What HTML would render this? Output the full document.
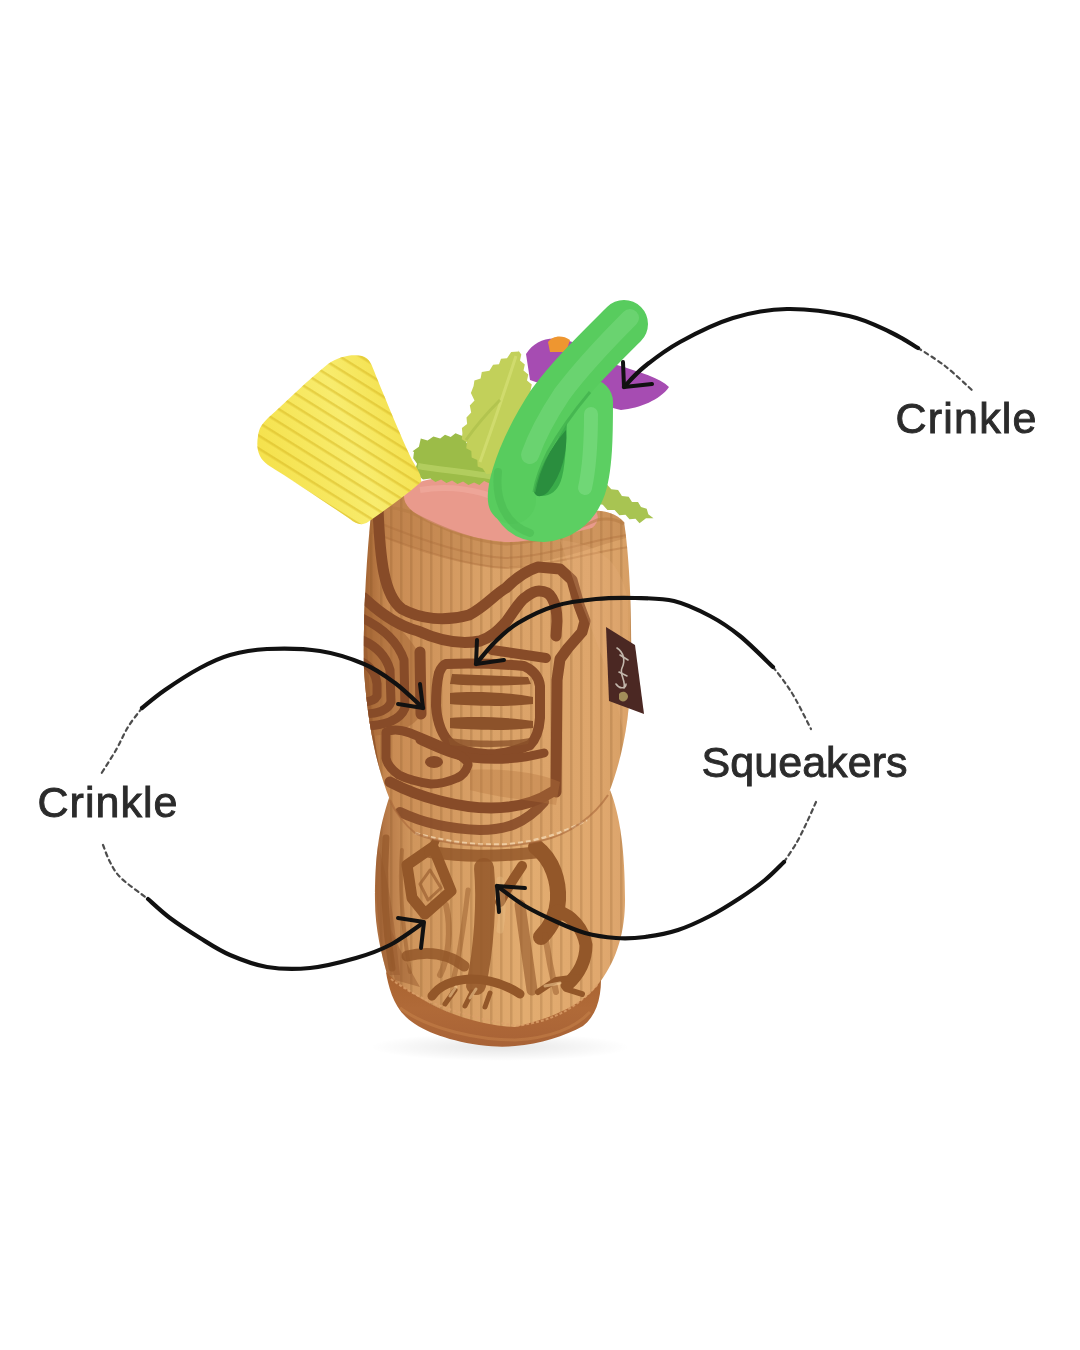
<!DOCTYPE html>
<html><head><meta charset="utf-8">
<style>
html,body{margin:0;padding:0;background:#fff;}
body{width:1080px;height:1350px;overflow:hidden;}
svg{display:block;}
text{font-family:"Liberation Sans",sans-serif;font-weight:normal;fill:#2b2b2b;stroke:#2b2b2b;stroke-width:0.9px;}
</style></head>
<body>
<svg width="1080" height="1350" viewBox="0 0 1080 1350">
<defs>
  <linearGradient id="bodyG" x1="360" x2="635" y1="0" y2="0" gradientUnits="userSpaceOnUse">
    <stop offset="0" stop-color="#9c5c2c"/>
    <stop offset="0.1" stop-color="#c88a52"/>
    <stop offset="0.45" stop-color="#daa268"/>
    <stop offset="0.85" stop-color="#dea66c"/>
    <stop offset="1" stop-color="#d69e64"/>
  </linearGradient>
  <linearGradient id="lowG" x1="372" x2="626" y1="0" y2="0" gradientUnits="userSpaceOnUse">
    <stop offset="0" stop-color="#a8683a"/>
    <stop offset="0.15" stop-color="#cf955c"/>
    <stop offset="0.6" stop-color="#e2ac70"/>
    <stop offset="0.9" stop-color="#e0a86e"/>
    <stop offset="1" stop-color="#dba46c"/>
  </linearGradient>
  <linearGradient id="baseG" x1="0" x2="0" y1="970" y2="1047" gradientUnits="userSpaceOnUse">
    <stop offset="0" stop-color="#a8622f"/>
    <stop offset="0.5" stop-color="#b06a38"/>
    <stop offset="1" stop-color="#a86236"/>
  </linearGradient>
  <linearGradient id="yelG" x1="260" y1="440" x2="420" y2="380" gradientUnits="userSpaceOnUse">
    <stop offset="0" stop-color="#f5e24e"/>
    <stop offset="0.5" stop-color="#f8ec6e"/>
    <stop offset="1" stop-color="#f2dc40"/>
  </linearGradient>
  <pattern id="cord" width="10" height="20" patternUnits="userSpaceOnUse">
    <rect x="0" y="0" width="2.5" height="20" fill="#7a4a20" opacity="0.2"/>
  </pattern>
  <pattern id="ridge" width="11" height="11" patternUnits="userSpaceOnUse" patternTransform="rotate(32)">
    <rect x="0" y="0" width="11" height="2.5" fill="#d6b520" opacity="0.5"/>
  </pattern>
  <clipPath id="upClip"><path d="M372,505 C385,496 405,494 420,497 L585,511 C600,509 615,512 624,522 C630,560 632,620 631,670 C630,720 622,760 608,795 C595,815 570,835 540,841 C520,845 500,847 490,846 C450,845 425,838 415,833 C405,825 395,812 390,800 C378,770 368,730 364,670 C363,620 366,560 372,505 Z"/></clipPath>
  <clipPath id="lowClip"><path d="M390,795 C420,815 460,830 500,835 C550,830 590,815 610,790 C620,815 625,850 625,900 C625,930 618,958 600,982 C590,1000 560,1022 515,1028 C470,1026 420,1005 387,974 C382,955 375,930 375,900 C375,860 378,830 390,795 Z"/></clipPath>
  <radialGradient id="shadowG" cx="0.5" cy="0.5" r="0.5">
    <stop offset="0" stop-color="#000" stop-opacity="0.10"/>
    <stop offset="1" stop-color="#000" stop-opacity="0"/>
  </radialGradient>
</defs>
<rect width="1080" height="1350" fill="#fff"/>

<!-- shadow -->
<ellipse cx="500" cy="1047" rx="130" ry="14" fill="url(#shadowG)"/>

<!-- lower body -->
<path d="M390,795 C420,815 460,830 500,835 C550,830 590,815 610,790 C620,815 625,850 625,900 C625,930 618,958 600,982 C590,1000 560,1022 515,1028 C470,1026 420,1005 387,974 C382,955 375,930 375,900 C375,860 378,830 390,795 Z" fill="url(#lowG)"/>
<g clip-path="url(#lowClip)">
  <rect x="370" y="780" width="260" height="260" fill="url(#cord)"/>
  <!-- mottled shading patches -->
  <path d="M376,840 C390,880 395,930 400,975 L385,975 C378,930 374,880 376,840 Z" fill="#9a5c30" opacity="0.5"/>
  <path d="M391,930 C400,950 410,970 420,987 L395,980 C390,960 388,945 391,930 Z" fill="#9a5c30" opacity="0.5"/>
  <g fill="none" stroke="#935729" stroke-linecap="round" stroke-linejoin="round">
    <path d="M386,838 C383,880 385,925 392,968" stroke-width="7" opacity="0.7"/>
    <path d="M402,850 C399,885 403,930 410,972" stroke-width="4" opacity="0.45"/>
    <path d="M433,847 L407,865 L412,898 L425,914 L451,891 Z" stroke-width="11"/>
    <path d="M430,870 L420,884 L428,900 L441,888 Z" stroke-width="3" opacity="0.6"/>
    <path d="M433,847 L438,835" stroke-width="8"/>
    <path d="M430,852 C460,856 490,858 540,852" stroke-width="12" opacity="0.85"/>
    <path d="M484,868 C487,900 484,950 476,985" stroke-width="20" opacity="0.85"/>
    <path d="M468,890 C464,925 460,955 452,985" stroke-width="5" opacity="0.45"/>
    <path d="M522,866 C514,878 506,890 500,902" stroke-width="10"/>
    <path d="M536,847 C553,860 559,882 558,900 C557,915 550,928 541,937" stroke-width="16"/>
    <path d="M557,911 C572,916 583,928 586,945 C586,962 578,975 567,985" stroke-width="13"/>
    <path d="M520,905 C524,935 528,960 532,990" stroke-width="11" opacity="0.6"/>
    <path d="M545,935 C548,955 552,975 556,992" stroke-width="6" opacity="0.5"/>
    <path d="M407,956 C430,950 450,955 464,966" stroke-width="11" opacity="0.85"/>
    <path d="M432,996 C440,985 452,980 470,979 C490,979 505,984 520,994" stroke-width="9"/>
    <path d="M445,1004 L455,990 M465,1006 L472,992 M485,1007 L490,993" stroke-width="5"/>
    <path d="M538,992 L556,980 L578,977 L566,989 L582,994" stroke-width="6"/>
    <path d="M446,905 C452,930 448,960 440,975" stroke-width="6" opacity="0.45"/>
  </g>
  <g fill="none" stroke="#f0c892" stroke-linecap="round" opacity="0.6">
    <path d="M450,996 L456,987 M470,998 L476,989 M545,986 L560,983" stroke-width="3"/>
    <path d="M500,880 C503,900 503,915 500,930" stroke-width="7" opacity="0.5"/>
  </g>
</g>

<!-- upper body -->
<path d="M372,505 C385,496 405,494 420,497 L585,511 C600,509 615,512 624,522 C630,560 632,620 631,670 C630,720 622,760 608,795 C595,815 570,835 540,841 C520,845 500,847 490,846 C450,845 425,838 415,833 C405,825 395,812 390,800 C378,770 368,730 364,670 C363,620 366,560 372,505 Z" fill="url(#bodyG)"/>
<g clip-path="url(#upClip)">
  <rect x="360" y="490" width="280" height="360" fill="url(#cord)"/>
  <path d="M360,495 L640,495 L640,535 C610,540 570,560 505,568 C460,566 410,545 360,530 Z" fill="#a86c3a" opacity="0.28"/>
  <g fill="none" stroke="#a86c3a" stroke-width="2" opacity="0.35">
    <path d="M372,520 C420,540 470,556 505,558 C550,556 590,540 628,535"/>
    <path d="M372,532 C420,552 470,566 505,568 C550,566 590,552 630,547"/>
  </g>
  <!-- left edge dark band -->
  <path d="M362,520 C366,600 366,700 380,770 L372,770 C360,700 358,600 362,520 Z" fill="#8e5229" opacity="0.8"/>
  <!-- left eye rings -->
  <path d="M360,600 C385,612 405,630 418,652 L422,712 C415,728 395,736 360,736 Z" fill="#a86a38" opacity="0.55"/>
  <g fill="none" stroke="#874b28" stroke-width="9" stroke-linecap="round" stroke-linejoin="round">
    <path d="M362,618 C383,628 398,642 404,660 L405,708 C400,720 385,726 362,726"/>
    <path d="M362,640 C376,646 386,656 390,670 L391,702 C388,710 378,714 362,714"/>
    <path d="M362,662 C370,666 376,674 377,684 L377,696 C375,700 370,702 362,702"/>
  </g>
  <!-- face lines -->
  <g fill="none" stroke="#874b28" stroke-width="11" stroke-linecap="round" stroke-linejoin="round">
    <path d="M378,508 C380,560 384,596 402,609 C420,619 445,622 469,615 C485,607 495,594 506,588 C515,579 525,571 538,567 L560,569 L572,580 L579,605 L585,621 L582,632 L568,648 L560,659 L557,680 L556,792"/>
    <path d="M364,598 C380,613 398,626 418,631 C440,641 460,645 480,641 C494,636 500,628 506,622 C515,610 520,600 526,597 C531,593 535,591 539,591 C546,591 550,594 552,598 C556,605 557,612 557,621 L556,636"/>
    <path d="M492,650 L546,658" stroke-width="10"/>
    <path d="M446,664 C470,663 500,664 524,666 C533,670 539,677 540,686 L540,718 C539,732 535,740 530,745 C510,753 495,755 485,754 C470,753 460,751 452,745 C442,736 437,721 436,706 C436,691 437,681 439,673 C441,668 443,665 446,664 Z" stroke-width="10"/>
    <path d="M420,740 C440,749 455,756 472,758 C500,761 525,758 544,753" stroke-width="9"/>
    <path d="M420,652 L421,714" stroke-width="11"/>
    <path d="M386,732 C392,729 399,729 410,733 C425,739 445,747 457,754 C465,758 468,762 468,765 C466,772 462,776 457,778 C448,782 438,784 431,784 C418,782 405,778 399,775 C392,770 387,764 386,758 Z" stroke-width="9"/>
    <path d="M390,782 C420,798 460,808 491,808 C515,808 535,803 552,792" stroke-width="11"/>
    <path d="M400,812 C425,824 450,829 480,830 C505,830 525,824 544,802" stroke-width="10" opacity="0.9"/>
  </g>
  <ellipse cx="434" cy="762" rx="9" ry="6" fill="#874b28"/>
  <!-- eye inner -->
  <g fill="#8c522a">
    <path d="M452,674 L528,677 L531,684 C510,686 470,686 450,684 Z"/>
    <path d="M450,693 C470,691 510,692 533,697 L533,704 C510,707 470,706 450,704 Z"/>
    <path d="M450,718 C470,716 510,717 533,721 L533,728 C510,731 470,730 450,728 Z"/>
    <path d="M448,738 C470,741 510,742 530,738 L528,744 C510,748 470,748 450,745 Z" opacity="0.8"/>
  </g>
  <!-- cheek shading -->
  <path d="M470,770 C500,768 540,772 560,782 L556,805 C530,800 500,798 470,790 Z" fill="#b57540" opacity="0.35"/>
  <path d="M560,540 C600,545 620,560 628,600 L628,760 C620,700 600,650 580,600 Z" fill="#e6b07a" opacity="0.25"/>
</g>
<!-- waist seam -->
<path d="M415,833 C450,843 480,846 510,844 C540,841 565,832 587,820" fill="none" stroke="#f2d4ac" stroke-width="2.5" stroke-dasharray="5 3" opacity="0.85"/>
<path d="M608,795 C595,815 570,835 540,841 C520,845 500,847 490,846 C450,845 425,838 415,833 C405,825 395,812 390,800" fill="none" stroke="#a8683a" stroke-width="2" opacity="0.6"/>

<!-- base -->
<path d="M386,972 C388,985 393,1005 406,1017 C420,1030 445,1040 479,1045 C495,1047 505,1047 515,1046 C540,1044 565,1036 583,1026 C595,1017 601,1000 601,980 C590,998 565,1015 515,1027 C470,1025 420,1005 386,972 Z" fill="url(#baseG)"/>
<path d="M391,979 C420,1000 450,1013 515,1026 C550,1022 575,1010 598,984" fill="none" stroke="#dca06a" stroke-width="2" stroke-dasharray="3 2" opacity="0.8"/>
<path d="M400,1008 C430,1030 480,1040 515,1040 C550,1038 575,1028 590,1012" fill="none" stroke="#cf8c50" stroke-width="3" opacity="0.4"/>
<!-- tag -->
<path d="M606,627 L635,645 L644,714 L609,701 Z" fill="#4b2823"/>
<g fill="none" stroke="#d8d0c4" stroke-width="1.6" stroke-linecap="round" opacity="0.85">
  <path d="M617,648 C623,652 626,660 622,668 C619,674 626,680 624,688"/>
  <path d="M620,655 L628,660 M619,672 L627,676 M616,684 C620,690 626,688 626,684"/>
</g>
<path d="M619,694 C622,690 628,692 628,697 C627,702 621,703 619,699 Z" fill="#b8a868" opacity="0.8"/>
<!-- pink top -->
<path d="M405,492 C412,480 440,474 480,480 C520,486 560,492 590,505 C600,512 600,522 592,528 C560,536 530,543 505,542 C470,539 430,526 410,509 C404,503 403,497 405,492 Z" fill="#e99a8c"/>
<path d="M420,490 C450,485 480,490 500,500 C520,510 540,515 560,512" fill="none" stroke="#f4b0a4" stroke-width="6" opacity="0.5"/>
<path d="M371,506 C385,506 398,508 410,512 C440,528 475,542 505,544 C540,543 575,530 597,520 C607,518 616,519 624,524" fill="none" stroke="#b57a44" stroke-width="3" opacity="0.55"/>
<!-- leaves -->
<path d="M412.6,451.2 L418.9,446.8 L420.8,438.4 L427.6,440.6 L433.4,436.4 L440.2,438.6 L445.0,434.7 L450.7,437.1 L455.5,433.2 L459.8,435.0 L465.5,437.0 L466.3,443.0 L472.0,445.0 L472.9,451.1 L479.1,452.9 L480.9,459.1 L487.1,460.9 L488.9,467.2 L494.8,468.3 L496.4,474.2 L502.3,475.3 L504.8,478.4 L500.0,482.3 L494.5,479.7 L489.7,483.6 L484.1,481.1 L479.4,484.9 L474.1,482.4 L468.4,485.1 L463.1,481.4 L457.4,484.1 L452.1,480.4 L446.4,483.1 L441.1,479.4 L435.4,482.1 L430.5,478.5 L423.0,479.5 L418.6,475.8 L414.7,470.2 L417.1,463.8 L413.2,458.2 L414.0,452.0 Z" fill="#9cbc48"/>
<path d="M418,466 C440,470 470,472 500,478" fill="none" stroke="#bcd468" stroke-width="6" opacity="0.7"/>
<path d="M518.8,351.4 L511.2,352.1 L507.0,358.3 L501.0,358.7 L499.0,364.3 L493.1,364.7 L489.4,370.8 L481.8,372.0 L480.6,378.4 L474.4,380.6 L473.6,385.9 L470.9,393.1 L474.5,400.4 L469.8,405.6 L471.2,412.4 L466.5,417.4 L467.1,424.0 L461.9,428.0 L462.4,433.3 L461.8,439.2 L466.9,442.3 L466.3,448.2 L471.3,451.1 L471.7,457.4 L477.3,460.1 L477.7,466.4 L482.7,468.6 L486.3,473.9 L492.7,473.6 L496.3,478.9 L501.5,478.5 L507.5,479.9 L511.5,475.1 L517.5,476.5 L521.5,471.8 L527.5,473.2 L530.5,469.5 L535.1,465.5 L533.7,459.5 L538.4,455.5 L537.0,449.5 L541.6,445.5 L540.2,439.5 L544.9,435.5 L543.5,430.5 L544.9,424.5 L540.2,420.5 L541.6,414.5 L537.0,410.5 L538.4,404.5 L533.7,400.5 L535.1,394.5 L530.5,390.5 L531.8,384.5 L527.0,380.5 L528.3,374.5 L523.5,370.5 L524.8,364.5 L520.0,360.5 L521.3,354.5 L518.0,350.0 Z" fill="#c2d05a"/>
<path d="M516,356 C505,390 495,420 480,462" fill="none" stroke="#d8e27a" stroke-width="3" opacity="0.6"/>
<path d="M466,440 C480,420 490,410 500,400" fill="none" stroke="#a8bc48" stroke-width="3" opacity="0.6"/>
<path d="M596.5,480.7 L600.8,485.3 L607.2,484.7 L611.3,489.2 L618.1,490.1 L621.9,495.9 L628.7,496.8 L632.0,501.9 L638.0,502.1 L641.0,507.0 L646.7,508.7 L648.3,514.3 L653.5,518.3 L646.0,518.2 L639.5,523.3 L635.5,518.7 L629.5,519.3 L625.5,514.7 L619.4,515.3 L614.6,510.1 L607.4,509.9 L602.8,504.8 L595.2,503.2 L591.3,498.5 L590.7,492.2 L595.3,487.8 L596.0,482.0 Z" fill="#a8c452"/>
<!-- yellow pineapple -->
<path d="M328,364 C340,356 352,354 362,356 C370,358 372,366 376,376 C388,405 400,435 412,460 C418,470 422,476 421,482 C405,496 385,510 368,522 C362,526 356,524 350,519 C322,500 292,480 268,465 C258,458 256,448 258,436 C259,428 262,424 268,418 C288,400 308,380 328,364 Z" fill="url(#yelG)"/>
<path d="M328,364 C340,356 352,354 362,356 C370,358 372,366 376,376 C388,405 400,435 412,460 C418,470 422,476 421,482 C405,496 385,510 368,522 C362,526 356,524 350,519 C322,500 292,480 268,465 C258,458 256,448 258,436 C259,428 262,424 268,418 C288,400 308,380 328,364 Z" fill="url(#ridge)"/>
<!-- purple flower -->
<path d="M526,354 C535,340 550,335 569,341 L600,350 L617,365 C640,372 660,378 669,387 C660,400 640,408 621,410 C600,405 560,390 530,380 Z" fill="#a64cb2"/>
<path d="M548,342 C552,336 562,334 570,340 L566,352 L550,352 Z" fill="#ee9630"/>

<!-- straw -->
<path d="M535,455 L560,405 L592,398 L584,495 L540,510 L522,495 Z" fill="#3aac4a"/>
<g fill="none" stroke-linecap="round" stroke-linejoin="round">
  <path d="M512,490 C514,510 525,519 543,519 C560,518 575,508 582,490 C590,470 590,430 590,402" stroke="#5ccf62" stroke-width="46"/>
  <path d="M585,488 C590,465 591,440 591,414" stroke="#84e08a" stroke-width="14" opacity="0.5"/>
</g>
<g fill="none" stroke-linecap="round" stroke-linejoin="round">
  <path d="M624,324 C600,348 572,375 552,402 C535,428 522,455 516,475 C512,488 511,495 512,500" stroke="#58cc5e" stroke-width="48"/>
  <path d="M630,318 C606,342 580,370 562,394 C546,418 536,438 530,455" stroke="#7ad880" stroke-width="18" opacity="0.55"/>
</g>
<path d="M534,492 C538,470 550,448 566,430 C568,450 562,475 548,492 C543,497 536,498 534,492 Z" fill="#2a8e3e"/>
<path d="M590,392 C575,410 560,430 548,452 C540,468 536,480 534,492" fill="none" stroke="#3fae4c" stroke-width="3" opacity="0.7"/>
<path d="M498,472 C495,498 504,524 530,533" fill="none" stroke="#46b650" stroke-width="8" opacity="0.45" stroke-linecap="round"/>
<!-- arrows -->
<g fill="none" stroke="#111" stroke-linecap="round" stroke-linejoin="round">
  <path d="M624.0,387.0 C627.3,383.7 634.7,374.5 644.0,367.0 C653.3,359.5 665.2,350.2 680.0,342.0 C694.8,333.8 715.2,323.5 733.0,318.0 C750.8,312.5 767.7,309.3 787.0,309.0 C806.3,308.7 831.8,312.2 849.0,316.0 C866.2,319.8 878.5,326.7 890.0,332.0 C901.5,337.3 913.3,345.3 918.0,348.0" stroke-width="4.2"/>
  <path d="M423.0,708.0 C418.3,703.8 404.8,690.3 395.0,683.0 C385.2,675.7 376.5,669.3 364.0,664.0 C351.5,658.7 336.2,653.5 320.0,651.0 C303.8,648.5 282.0,648.3 267.0,649.0 C252.0,649.7 241.2,651.8 230.0,655.0 C218.8,658.2 210.8,662.2 200.0,668.0 C189.2,673.8 174.7,683.3 165.0,690.0 C155.3,696.7 145.8,705.0 142.0,708.0" stroke-width="4.2"/>
  <path d="M148.0,899.0 C151.7,902.2 161.3,911.5 170.0,918.0 C178.7,924.5 190.0,931.8 200.0,938.0 C210.0,944.2 218.8,950.2 230.0,955.0 C241.2,959.8 253.7,964.8 267.0,967.0 C280.3,969.2 295.2,969.5 310.0,968.0 C324.8,966.5 342.7,961.8 356.0,958.0 C369.3,954.2 378.8,950.8 390.0,945.0 C401.2,939.2 417.5,926.7 423.0,923.0" stroke-width="4.2"/>
  <path d="M476.0,664.0 C479.2,660.3 488.0,648.8 495.0,642.0 C502.0,635.2 508.0,629.0 518.0,623.0 C528.0,617.0 542.0,610.0 555.0,606.0 C568.0,602.0 582.7,600.3 596.0,599.0 C609.3,597.7 622.0,597.7 635.0,598.0 C648.0,598.3 661.5,598.0 674.0,601.0 C686.5,604.0 699.0,610.2 710.0,616.0 C721.0,621.8 729.5,627.5 740.0,636.0 C750.5,644.5 767.5,661.8 773.0,667.0" stroke-width="4.2"/>
  <path d="M784.0,862.0 C780.8,865.0 772.3,874.0 765.0,880.0 C757.7,886.0 749.2,892.0 740.0,898.0 C730.8,904.0 720.3,910.7 710.0,916.0 C699.7,921.3 688.8,926.5 678.0,930.0 C667.2,933.5 655.3,935.7 645.0,937.0 C634.7,938.3 626.0,938.7 616.0,938.0 C606.0,937.3 594.8,935.7 585.0,933.0 C575.2,930.3 567.0,926.5 557.0,922.0 C547.0,917.5 535.0,912.0 525.0,906.0 C515.0,900.0 501.7,889.3 497.0,886.0" stroke-width="4.2"/>
  <path d="M918.0,348.0 C922.5,351.0 935.8,358.8 945.0,366.0 C954.2,373.2 968.3,386.8 973.0,391.0" stroke-width="2.2" stroke-dasharray="4 4" opacity="0.75"/>
  <path d="M142.0,708.0 C139.7,711.2 132.3,720.0 128.0,727.0 C123.7,734.0 120.5,742.2 116.0,750.0 C111.5,757.8 103.5,770.0 101.0,774.0" stroke-width="2.2" stroke-dasharray="4 4" opacity="0.75"/>
  <path d="M103.0,845.0 C104.2,847.8 107.0,856.5 110.0,862.0 C113.0,867.5 114.7,871.8 121.0,878.0 C127.3,884.2 143.5,895.5 148.0,899.0" stroke-width="2.2" stroke-dasharray="4 4" opacity="0.75"/>
  <path d="M773.0,667.0 C775.2,669.8 782.2,678.5 786.0,684.0 C789.8,689.5 791.8,692.5 796.0,700.0 C800.2,707.5 808.5,724.2 811.0,729.0" stroke-width="2.2" stroke-dasharray="4 4" opacity="0.75"/>
  <path d="M816.0,802.0 C814.5,805.3 810.2,815.3 807.0,822.0 C803.8,828.7 800.8,835.3 797.0,842.0 C793.2,848.7 786.2,858.7 784.0,862.0" stroke-width="2.2" stroke-dasharray="4 4" opacity="0.75"/>
  <path d="M624,387 L623,362 M624,387 L652,384" stroke-width="4"/>
  <path d="M423,708 L420,684 M423,708 L398,704" stroke-width="4"/>
  <path d="M424,922 L421,948 M424,922 L398,918" stroke-width="4"/>
  <path d="M476,664 L477,640 M476,664 L504,660" stroke-width="4"/>
  <path d="M497,886 L499,912 M497,886 L525,888" stroke-width="4"/>
</g>
<!-- text -->
<text x="895.5" y="432.5" font-size="43" textLength="141" lengthAdjust="spacing">Crinkle</text>
<text x="37.5" y="816.5" font-size="43" textLength="140" lengthAdjust="spacing">Crinkle</text>
<text x="701.5" y="777" font-size="43" textLength="206" lengthAdjust="spacing">Squeakers</text>
</svg>
</body></html>
